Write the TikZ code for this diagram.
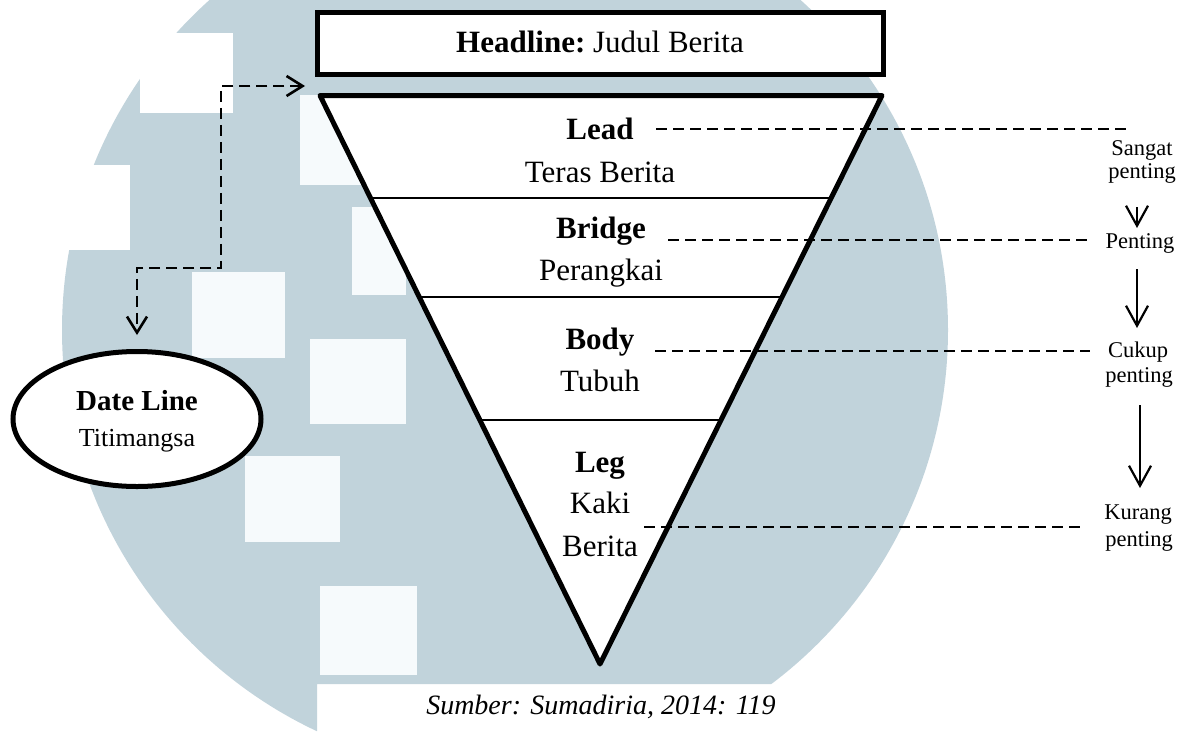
\documentclass[tikz,border=0pt]{standalone}
\usepackage{fontspec}
\setmainfont{Liberation Serif}
\usetikzlibrary{arrows.meta,calc,shapes.geometric}
\definecolor{wm}{RGB}{193,211,219}
\definecolor{wmlight}{RGB}{246,250,252}
\begin{document}
\begin{tikzpicture}[x=1pt,y=-1pt,
  heavy/.style={draw,line width=5pt,fill=white},
  divider/.style={line width=1.8pt},
  dline/.style={line width=2.6pt,dash pattern=on 11pt off 6pt},
  darrow/.style={dline,{Straight Barb[length=16pt,width=20pt]}-{Straight Barb[length=16pt,width=20pt]}},
  rarrow/.style={line width=2.2pt,-{Straight Barb[length=20pt,width=22pt]}},
  mtext/.style={anchor=base,inner sep=0pt,font=\fontsize{31}{36}\selectfont},
  stext/.style={anchor=base,inner sep=0pt,font=\fontsize{22.5}{26}\selectfont}
]
\useasboundingbox (0,0) rectangle (1196,731);
% watermark
\begin{scope}
\clip (0,0) -- (1196,0) -- (1196,684) -- (317,684) -- (317,731) -- (0,731) -- cycle;
\fill[wm] (505,330) circle[radius=443];
\fill[white] (140,33) rectangle (233,113);
\fill[white] (0,165) rectangle (130,250);
\fill[wmlight] (300,95) rectangle (362,185);
\fill[wmlight] (352,207) rectangle (406,295);
\fill[wmlight] (192,272) rectangle (285,358);
\fill[wmlight] (310,339) rectangle (406,424);
\fill[wmlight] (245,456) rectangle (340,542);
\fill[wmlight] (320,586) rectangle (417,675);
\end{scope}

% headline
\node[heavy,minimum width=566pt,minimum height=62pt,inner sep=0pt] (head) at (600.5,43.5) {};
\node[mtext] (headtxt) at (600,52) {\bfseries Headline:\mdseries\ Judul Berita};

% inverted pyramid
\coordinate (tl) at (320,95.5);
\coordinate (tr) at (882,95.5);
\coordinate (tip) at (600,664);
\draw[heavy,line join=round] (tl) -- (tr) -- (tip) -- cycle;
\draw[divider] ($(tl)!0.1803!(tip)$) -- ($(tr)!0.1803!(tip)$);
\draw[divider] ($(tl)!0.3543!(tip)$) -- ($(tr)!0.3543!(tip)$);
\draw[divider] ($(tl)!0.5704!(tip)$) -- ($(tr)!0.5704!(tip)$);

\node[mtext] (lead) at (600,139) {\bfseries Lead};
\node[mtext] (teras) at (600,182) {Teras Berita};
\node[mtext] (bridge) at (601,238) {\bfseries Bridge};
\node[mtext] (perangkai) at (601,280) {Perangkai};
\node[mtext] (body) at (600,349) {\bfseries Body};
\node[mtext] (tubuh) at (600,391) {Tubuh};
\node[mtext] (leg) at (600,472) {\bfseries Leg};
\node[mtext] (kaki) at (600,513) {Kaki};
\node[mtext] (berita) at (600,556) {Berita};

% date line
\node[heavy,ellipse,minimum width=248pt,minimum height=135pt,inner sep=0pt] (date) at (137,419) {};
\node[anchor=base,inner sep=0pt,font=\fontsize{29}{33}\selectfont] (dl) at (137,410) {\bfseries Date Line};
\node[anchor=base,inner sep=0pt,font=\fontsize{26}{30}\selectfont] (tm) at (137,446) {Titimangsa};

\coordinate (hlarr) at (305,86);
\coordinate (bendA) at (221,86);
\coordinate (bendB) at (221,268);
\draw[darrow] (hlarr) -- (bendA) -- (bendB) -| ([yshift=14pt]date.north);

% right labels
\node[stext] (sangat) at (1142,155) {Sangat};
\node[stext] (penting1) at (1142,178) {penting};
\node[stext] (penting) at (1140,248) {Penting};
\node[stext] (cukup) at (1138,357) {Cukup};
\node[stext] (penting2) at (1139,382) {penting};
\node[stext] (kurang) at (1138,519) {Kurang};
\node[stext] (penting3) at (1139,546) {penting};

% leader lines
\coordinate (leadL) at (656,129);   \coordinate (leadR) at (1128,129);
\coordinate (bridgeL) at (668,240); \coordinate (bridgeR) at (1089,240);
\coordinate (bodyL) at (655,351);   \coordinate (bodyR) at (1090,351);
\coordinate (legL) at (644,527);    \coordinate (legR) at (1085,527);
\draw[dline] (leadL) -- (leadR);
\draw[dline] (bridgeL) -- (bridgeR);
\draw[dline] (bodyL) -- (bodyR);
\draw[dline] (legL) -- (legR);

% importance arrows
\coordinate (a1s) at (1137,207); \coordinate (a1e) at (1137,228);
\coordinate (a2s) at (1137,269); \coordinate (a2e) at (1137,328);
\coordinate (a3s) at (1140,405); \coordinate (a3e) at (1140,488);
\draw[rarrow] (a1s) -- (a1e);
\draw[rarrow] (a2s) -- (a2e);
\draw[rarrow] (a3s) -- (a3e);

% source
\node[anchor=base,inner sep=0pt,font=\fontsize{28}{32}\selectfont\itshape] (src) at (601,714) {Sumber: Sumadiria, 2014: 119};
\end{tikzpicture}
\end{document}
